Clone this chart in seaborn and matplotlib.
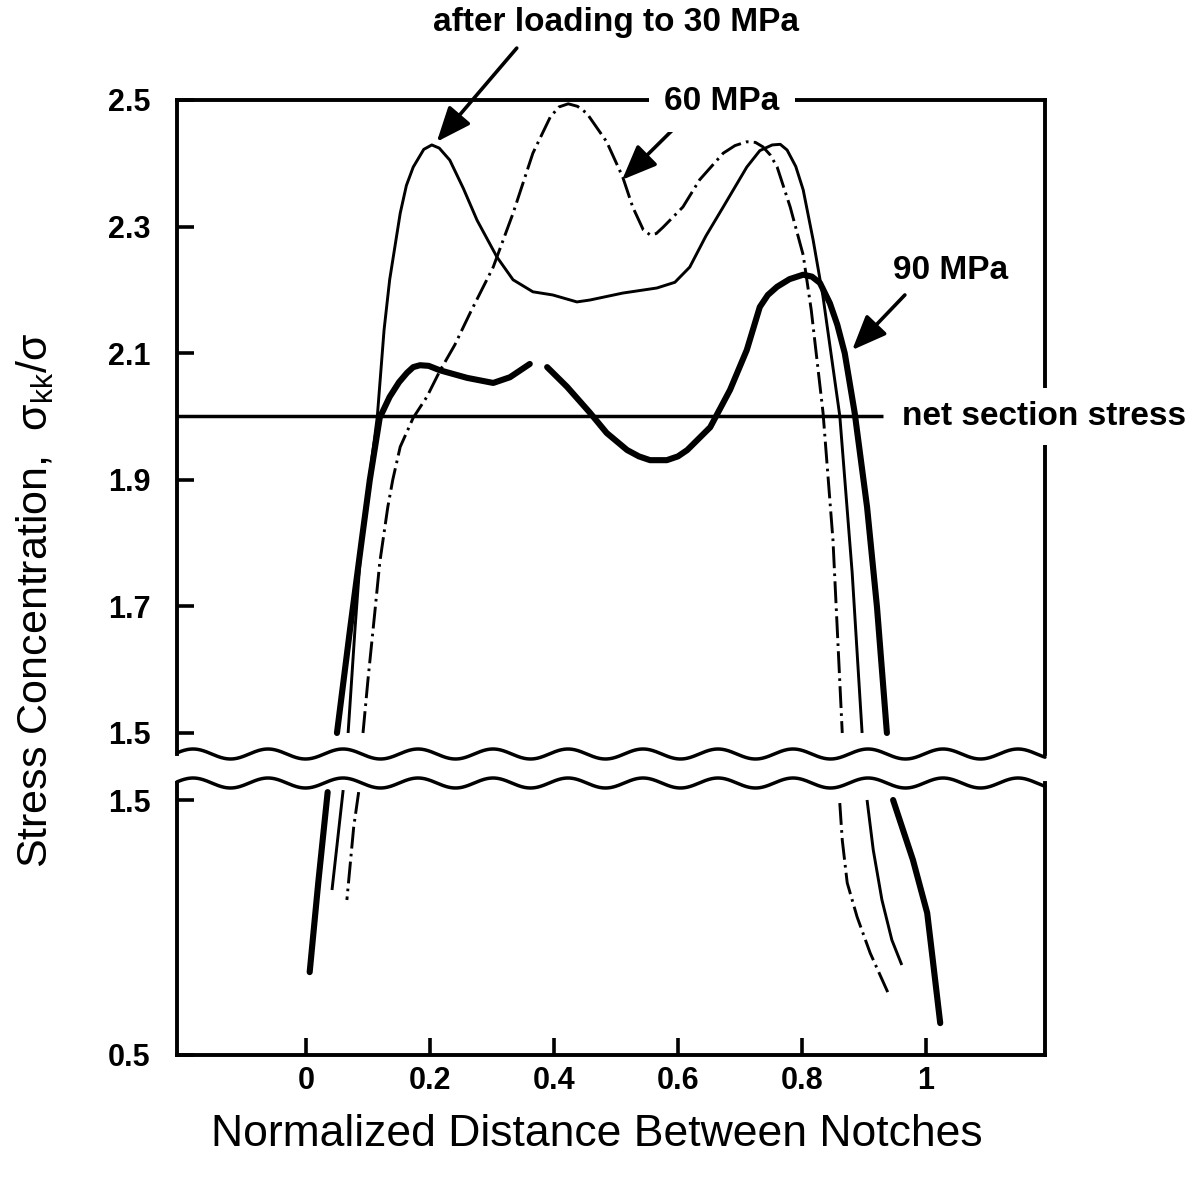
import numpy as np
import matplotlib
matplotlib.use("Agg")
import matplotlib.pyplot as plt
import seaborn as sns

# ---- curves: normalized distance vs. stress concentration ----
# after loading to 30 MPa (thin solid)
x30_up = [0.068, 0.079, 0.087, 0.095, 0.115, 0.126, 0.135, 0.152, 0.162, 0.173, 0.190,
          0.203, 0.215, 0.232, 0.254, 0.276, 0.308, 0.334, 0.366, 0.398, 0.437, 0.458,
          0.511, 0.566, 0.595, 0.619, 0.645, 0.673, 0.711, 0.732, 0.752, 0.765, 0.776,
          0.790, 0.802, 0.818, 0.834, 0.861, 0.881, 0.897]
y30_up = [1.500, 1.663, 1.769, 1.848, 1.999, 2.137, 2.216, 2.321, 2.365, 2.394, 2.422,
          2.429, 2.424, 2.405, 2.360, 2.310, 2.252, 2.216, 2.197, 2.192, 2.181, 2.184,
          2.195, 2.203, 2.212, 2.236, 2.285, 2.331, 2.394, 2.420, 2.429, 2.430, 2.421,
          2.395, 2.358, 2.279, 2.189, 2.001, 1.753, 1.500]
x30_lo_a = [0.060, 0.051, 0.042]
y30_lo_a = [1.539, 1.343, 1.147]
x30_lo_b = [0.905, 0.915, 0.929, 0.945, 0.961]
y30_lo_b = [1.500, 1.304, 1.108, 0.951, 0.853]

# 60 MPa (dash-dot)
x60_up = [0.092, 0.100, 0.111, 0.119, 0.132, 0.140, 0.152, 0.173, 0.195, 0.216, 0.240,
          0.265, 0.302, 0.334, 0.366, 0.394, 0.408, 0.423, 0.438, 0.453, 0.485, 0.511,
          0.527, 0.544, 0.555, 0.565, 0.576, 0.608, 0.635, 0.673, 0.692, 0.711, 0.725,
          0.737, 0.749, 0.760, 0.781, 0.802, 0.815, 0.834, 0.850, 0.865]
y60_up = [1.500, 1.584, 1.690, 1.769, 1.857, 1.900, 1.952, 1.998, 2.031, 2.072, 2.113,
          2.164, 2.236, 2.321, 2.416, 2.473, 2.489, 2.494, 2.490, 2.479, 2.434, 2.378,
          2.331, 2.295, 2.287, 2.289, 2.299, 2.331, 2.374, 2.416, 2.428, 2.434, 2.433,
          2.426, 2.413, 2.394, 2.331, 2.255, 2.168, 2.006, 1.805, 1.500]
x60_lo_a = [0.085, 0.077, 0.066]
y60_lo_a = [1.531, 1.394, 1.108]
x60_lo_b = [0.861, 0.865, 0.873, 0.889, 0.910, 0.939]
y60_lo_b = [1.488, 1.343, 1.175, 1.041, 0.900, 0.743]

# 90 MPa (thick solid), upper range in two pieces
x90_up_a = [0.050, 0.071, 0.090, 0.103, 0.119, 0.135, 0.150, 0.163, 0.173, 0.184,
            0.198, 0.216, 0.260, 0.302, 0.329, 0.361]
y90_up_a = [1.500, 1.663, 1.805, 1.900, 1.998, 2.031, 2.054, 2.069, 2.078, 2.081,
            2.080, 2.073, 2.061, 2.053, 2.062, 2.083]
x90_up_b = [0.389, 0.421, 0.458, 0.485, 0.518, 0.537, 0.555, 0.582, 0.600, 0.615,
            0.652, 0.684, 0.711, 0.732, 0.745, 0.760, 0.780, 0.802, 0.816, 0.829,
            0.845, 0.857, 0.869, 0.885, 0.905, 0.921, 0.937]
y90_up_b = [2.078, 2.047, 2.006, 1.974, 1.947, 1.937, 1.931, 1.931, 1.937, 1.947,
            1.983, 2.042, 2.105, 2.173, 2.192, 2.205, 2.217, 2.224, 2.221, 2.211,
            2.179, 2.145, 2.100, 2.006, 1.857, 1.699, 1.500]
x90_lo_a = [0.035, 0.020, 0.006]
y90_lo_a = [1.531, 1.180, 0.825]
x90_lo_b = [0.947, 0.979, 1.002, 1.011, 1.023]
y90_lo_b = [1.500, 1.265, 1.057, 0.873, 0.625]

net_section = 2.0

upper_yticks = [1.5, 1.7, 1.9, 2.1, 2.3, 2.5]
lower_yticks = [0.5, 1.5]
xticks = [0, 0.2, 0.4, 0.6, 0.8, 1.0]
xticklabels = ["0", "0.2", "0.4", "0.6", "0.8", "1"]

# ---- styling ----
sns.set_theme(style="white")
plt.rcParams["font.family"] = ["Liberation Sans", "DejaVu Sans"]
plt.rcParams["mathtext.default"] = "regular"

W, H = 1194, 1182
fig = plt.figure(figsize=(W / 100, H / 100), dpi=100)

L, R = 177, 1045
T_up, B_up = 100, 754
T_lo, B_lo = 783, 1055
ax_up = fig.add_axes([L / W, 1 - B_up / H, (R - L) / W, (B_up - T_up) / H])
ax_lo = fig.add_axes([L / W, 1 - B_lo / H, (R - L) / W, (B_lo - T_lo) / H])

xlim = (-0.208, 1.192)
ax_up.set_xlim(*xlim)
ax_lo.set_xlim(*xlim)
ax_up.set_ylim(1.4668, 2.5)
ax_lo.set_ylim(0.5, 1.5667)

K = "black"
thin = dict(color=K, lw=2.1, solid_capstyle="butt", solid_joinstyle="round")
thick = dict(color=K, lw=4.4, solid_capstyle="round", solid_joinstyle="round")
dashdot = dict(color=K, lw=2.1, linestyle=(0, (7.5, 1.8, 0.9, 1.8)))


def draw(ax, xs, ys, kw):
    sns.lineplot(x=xs, y=ys, sort=False, estimator=None, ax=ax, legend=False, **kw)


draw(ax_up, x30_up, y30_up, thin)
draw(ax_lo, x30_lo_a, y30_lo_a, thin)
draw(ax_lo, x30_lo_b, y30_lo_b, thin)
draw(ax_up, x60_up, y60_up, dashdot)
draw(ax_lo, x60_lo_a, y60_lo_a, dashdot)
draw(ax_lo, x60_lo_b, y60_lo_b, dashdot)
draw(ax_up, x90_up_a, y90_up_a, thick)
draw(ax_up, x90_up_b, y90_up_b, thick)
draw(ax_lo, x90_lo_a, y90_lo_a, thick)
draw(ax_lo, x90_lo_b, y90_lo_b, thick)

# net section stress reference line
ax_up.plot([xlim[0], 0.931], [net_section, net_section], color=K, lw=2.5,
           solid_capstyle="butt", clip_on=False)

# frame
tick_font = dict(size=22, weight="bold")
for ax in (ax_up, ax_lo):
    for s in ax.spines.values():
        s.set_linewidth(2.8)
        s.set_color(K)
    ax.tick_params(axis="both", direction="in", length=12, width=2.6, colors=K,
                   labelcolor=K)
    ax.tick_params(axis="y", pad=19, left=True, right=False)
ax_up.spines["bottom"].set_visible(False)
ax_lo.spines["top"].set_visible(False)

ax_up.set_yticks(upper_yticks)
ax_up.set_yticklabels([f"{v:.1f}" for v in upper_yticks], fontdict=tick_font)
ax_up.tick_params(axis="x", bottom=False, labelbottom=False)
ax_lo.set_yticks(lower_yticks)
ax_lo.set_yticklabels([f"{v:.1f}" for v in lower_yticks], fontdict=tick_font)
ax_lo.set_xticks(xticks)
ax_lo.set_xticklabels(xticklabels, fontdict=tick_font)
ax_lo.tick_params(axis="x", bottom=True, top=False, pad=8)

# wavy break lines
t = np.linspace(0, 1, 2000)
px = L + t * (R - L)
phase = np.cos(2 * np.pi * (px - 193) / 75.0)
ax_up.plot(t, 0 + 5.0 / (B_up - T_up) * phase, transform=ax_up.transAxes,
           color=K, lw=2.5, clip_on=False)
ax_lo.plot(t, 1 + 5.0 / (B_lo - T_lo) * phase, transform=ax_lo.transAxes,
           color=K, lw=2.5, clip_on=False)

# annotations
note = dict(fontsize=24, fontweight="bold", color=K)
arrow = dict(arrowstyle="-|>,head_length=0.85,head_width=0.35", color=K, lw=2.6,
             mutation_scale=25, shrinkA=0, shrinkB=0)
ax_up.text(0.50, 2.623, "after loading to 30 MPa", ha="center", va="center",
           clip_on=False, **note)
ax_up.annotate("", xy=(0.211, 2.434), xytext=(0.340, 2.582), arrowprops=arrow,
               annotation_clip=False)

ax_up.text(0.671, 2.497, "60 MPa", ha="center", va="center", zorder=5,
           bbox=dict(boxstyle="square,pad=0.45", fc="white", ec="none"), **note)
ax_up.annotate("", xy=(0.510, 2.374), xytext=(0.603, 2.464), arrowprops=arrow)

ax_up.text(1.039, 2.231, "90 MPa", ha="center", va="center", **note)
ax_up.annotate("", xy=(0.881, 2.105), xytext=(0.966, 2.192), arrowprops=arrow)

ax_up.text(0.961, net_section, "net section stress", ha="left", va="center",
           zorder=5, clip_on=False,
           bbox=dict(boxstyle="square,pad=0.4", fc="white", ec="none"), **note)

# axis titles
fig.text(597 / W, 1 - 1135 / H, "Normalized Distance Between Notches",
         ha="center", va="center", fontsize=32, color=K)
fig.text(35 / W, 1 - 600 / H, r"Stress Concentration,  σ$_{kk}$/σ",
         ha="center", va="center", rotation=90, fontsize=31, color=K)

fig.savefig("out.png", dpi=100, facecolor="white")
